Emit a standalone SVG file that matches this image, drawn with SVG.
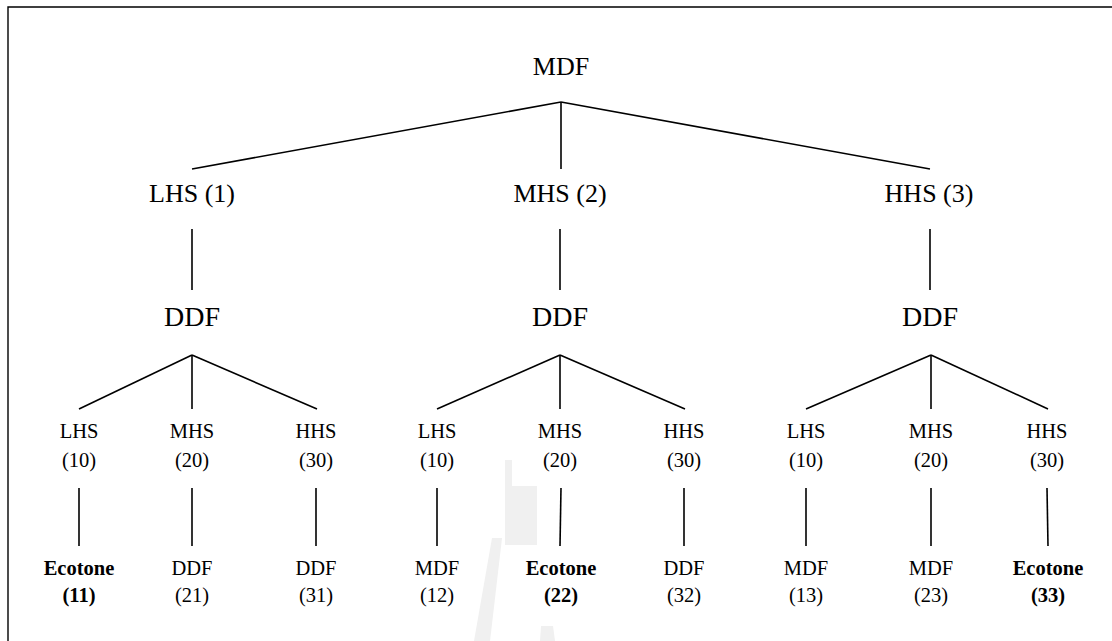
<svg xmlns="http://www.w3.org/2000/svg" width="1112" height="641" viewBox="0 0 1112 641">
  <style>
    text { font-family: "Liberation Serif", "Times New Roman", Times, serif; fill: #000; text-anchor: middle; }
    .l1 { font-size: 26px; }
    .l2 { font-size: 28px; }
    .l3 { font-size: 20.5px; }
    .b { font-weight: bold; }
    .c line { stroke: #000; stroke-width: 1.6; stroke-linecap: butt; }
    .wm { fill: #f0f0f0; }
  </style>
  <rect x="0" y="0" width="1112" height="641" fill="#fff"/>
  <!-- frame -->
  <path d="M8,641 V7 H1112" fill="none" stroke="#000" stroke-width="1.4"/>

  <!-- faint background emblem -->
  <g id="emblem">
    <polygon class="wm" points="505,460 512,460 512,486 537,486 537,545 505,545"/>
    <polygon class="wm" points="492,538 502,538 490,641 474,641"/>
    <polygon class="wm" points="541,626 553,626 555,641 540,641"/>
  </g>

  <!-- connectors -->
  <g id="connectors" class="c">
    <line x1="561" y1="102" x2="192" y2="169"/>
    <line x1="561" y1="102" x2="561" y2="169"/>
    <line x1="561" y1="102" x2="930" y2="169"/>

    <line x1="192" y1="229" x2="192" y2="290"/>
    <line x1="560" y1="229" x2="560" y2="290"/>
    <line x1="930" y1="229" x2="930" y2="290"/>

    <line x1="192" y1="355" x2="79" y2="409"/>
    <line x1="192" y1="355" x2="192" y2="409"/>
    <line x1="192" y1="355" x2="317" y2="409"/>

    <line x1="560" y1="355" x2="437" y2="409"/>
    <line x1="560" y1="355" x2="560" y2="409"/>
    <line x1="560" y1="355" x2="685" y2="409"/>

    <line x1="931" y1="355" x2="806" y2="409"/>
    <line x1="931" y1="355" x2="931" y2="409"/>
    <line x1="931" y1="355" x2="1048" y2="409"/>

    <line x1="79" y1="488" x2="79" y2="546"/>
    <line x1="192" y1="488" x2="192" y2="546"/>
    <line x1="316" y1="488" x2="316" y2="546"/>
    <line x1="437" y1="488" x2="437" y2="546"/>
    <line x1="561" y1="488" x2="560" y2="546"/>
    <line x1="684" y1="488" x2="684" y2="546"/>
    <line x1="806" y1="488" x2="806" y2="546"/>
    <line x1="931" y1="488" x2="931" y2="546"/>
    <line x1="1047" y1="488" x2="1048" y2="546"/>
  </g>

  <!-- root -->
  <g id="n-root"><text class="l1" x="561" y="75">MDF</text></g>

  <!-- level 1 -->
  <g id="n-1"><text class="l1" x="192" y="202">LHS (1)</text></g>
  <g id="n-2"><text class="l1" x="560" y="202">MHS (2)</text></g>
  <g id="n-3"><text class="l1" x="929" y="202">HHS (3)</text></g>

  <!-- level 2 -->
  <g id="n-ddf1"><text class="l2" x="192" y="326">DDF</text></g>
  <g id="n-ddf2"><text class="l2" x="560" y="326">DDF</text></g>
  <g id="n-ddf3"><text class="l2" x="930" y="326">DDF</text></g>

  <!-- level 3 -->
  <g id="n-10a"><text class="l3" x="79" y="438">LHS</text><text class="l3" x="79" y="467">(10)</text></g>
  <g id="n-20a"><text class="l3" x="192" y="438">MHS</text><text class="l3" x="192" y="467">(20)</text></g>
  <g id="n-30a"><text class="l3" x="316" y="438">HHS</text><text class="l3" x="316" y="467">(30)</text></g>
  <g id="n-10b"><text class="l3" x="437" y="438">LHS</text><text class="l3" x="437" y="467">(10)</text></g>
  <g id="n-20b"><text class="l3" x="560" y="438">MHS</text><text class="l3" x="560" y="467">(20)</text></g>
  <g id="n-30b"><text class="l3" x="684" y="438">HHS</text><text class="l3" x="684" y="467">(30)</text></g>
  <g id="n-10c"><text class="l3" x="806" y="438">LHS</text><text class="l3" x="806" y="467">(10)</text></g>
  <g id="n-20c"><text class="l3" x="931" y="438">MHS</text><text class="l3" x="931" y="467">(20)</text></g>
  <g id="n-30c"><text class="l3" x="1047" y="438">HHS</text><text class="l3" x="1047" y="467">(30)</text></g>

  <!-- level 4 -->
  <g id="n-11"><text class="l3 b" x="79" y="575">Ecotone</text><text class="l3 b" x="79" y="602">(11)</text></g>
  <g id="n-21"><text class="l3" x="192" y="575">DDF</text><text class="l3" x="192" y="602">(21)</text></g>
  <g id="n-31"><text class="l3" x="316" y="575">DDF</text><text class="l3" x="316" y="602">(31)</text></g>
  <g id="n-12"><text class="l3" x="437" y="575">MDF</text><text class="l3" x="437" y="602">(12)</text></g>
  <g id="n-22"><text class="l3 b" x="561" y="575">Ecotone</text><text class="l3 b" x="561" y="602">(22)</text></g>
  <g id="n-32"><text class="l3" x="684" y="575">DDF</text><text class="l3" x="684" y="602">(32)</text></g>
  <g id="n-13"><text class="l3" x="806" y="575">MDF</text><text class="l3" x="806" y="602">(13)</text></g>
  <g id="n-23"><text class="l3" x="931" y="575">MDF</text><text class="l3" x="931" y="602">(23)</text></g>
  <g id="n-33"><text class="l3 b" x="1048" y="575">Ecotone</text><text class="l3 b" x="1048" y="602">(33)</text></g>
</svg>
